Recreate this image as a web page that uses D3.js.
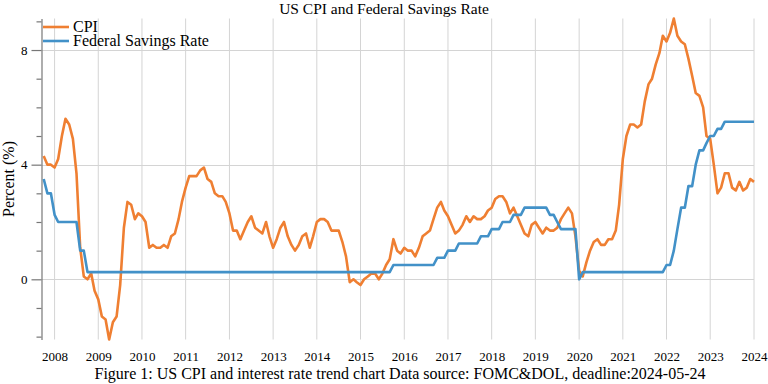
<!DOCTYPE html>
<html lang="en">
  <head>
    <meta charset="utf-8">
    <title>US CPI and Federal Savings Rate</title>
    <script src="https://d3js.org/d3.v7.min.js"></script>
    <style>
      body { margin: 0; background: #fff; }
      svg { font-family: "Liberation Serif", "DejaVu Serif", serif; }
    </style>
  </head>
  <body>
    <div id="chart"></div>
    <script>
      // monthly data, Jan 2008 .. Apr 2024
      var startMonth = "2008-01", endMonth = "2024-04";

      // CPI, year on year change (%)
      var cpi = [
        4.3, 4.0, 4.0, 3.9, 4.2, 5.0, 5.6, 5.4, 4.9, 3.7, 1.1, 0.1,
        0.0, 0.2, -0.4, -0.7, -1.3, -1.4, -2.1, -1.5, -1.3, -0.2, 1.8, 2.7,
        2.6, 2.1, 2.3, 2.2, 2.0, 1.1, 1.2, 1.1, 1.1, 1.2, 1.1, 1.5,
        1.6, 2.1, 2.7, 3.2, 3.6, 3.6, 3.6, 3.8, 3.9, 3.5, 3.4, 3.0,
        2.9, 2.9, 2.7, 2.3, 1.7, 1.7, 1.4, 1.7, 2.0, 2.2, 1.8, 1.7,
        1.6, 2.0, 1.5, 1.1, 1.4, 1.8, 2.0, 1.5, 1.2, 1.0, 1.2, 1.5,
        1.6, 1.1, 1.5, 2.0, 2.1, 2.1, 2.0, 1.7, 1.7, 1.7, 1.3, 0.8,
        -0.1, 0.0, -0.1, -0.2, 0.0, 0.1, 0.2, 0.2, 0.0, 0.2, 0.5, 0.7,
        1.4, 1.0, 0.9, 1.1, 1.0, 1.0, 0.8, 1.1, 1.5, 1.6, 1.7, 2.1,
        2.5, 2.7, 2.4, 2.2, 1.9, 1.6, 1.7, 1.9, 2.2, 2.0, 2.2, 2.1,
        2.1, 2.2, 2.4, 2.5, 2.8, 2.9, 2.9, 2.7, 2.3, 2.5, 2.2, 1.9,
        1.6, 1.5, 1.9, 2.0, 1.8, 1.6, 1.8, 1.7, 1.7, 1.8, 2.1, 2.3,
        2.5, 2.3, 1.5, 0.3, 0.1, 0.6, 1.0, 1.3, 1.4, 1.2, 1.2, 1.4,
        1.4, 1.7, 2.6, 4.2, 5.0, 5.4, 5.4, 5.3, 5.4, 6.2, 6.8, 7.0,
        7.5, 7.9, 8.5, 8.3, 8.6, 9.1, 8.5, 8.3, 8.2, 7.7, 7.1, 6.5,
        6.4, 6.0, 5.0, 4.9, 4.0, 3.0, 3.2, 3.7, 3.7, 3.2, 3.1, 3.4,
        3.1, 3.2, 3.5, 3.4
      ];

      // federal rate (%)
      var fedRate = [
        3.5, 3.0, 3.0, 2.25, 2.0, 2.0, 2.0, 2.0, 2.0, 2.0, 1.0, 1.0,
        0.25, 0.25, 0.25, 0.25, 0.25, 0.25, 0.25, 0.25, 0.25, 0.25, 0.25, 0.25,
        0.25, 0.25, 0.25, 0.25, 0.25, 0.25, 0.25, 0.25, 0.25, 0.25, 0.25, 0.25,
        0.25, 0.25, 0.25, 0.25, 0.25, 0.25, 0.25, 0.25, 0.25, 0.25, 0.25, 0.25,
        0.25, 0.25, 0.25, 0.25, 0.25, 0.25, 0.25, 0.25, 0.25, 0.25, 0.25, 0.25,
        0.25, 0.25, 0.25, 0.25, 0.25, 0.25, 0.25, 0.25, 0.25, 0.25, 0.25, 0.25,
        0.25, 0.25, 0.25, 0.25, 0.25, 0.25, 0.25, 0.25, 0.25, 0.25, 0.25, 0.25,
        0.25, 0.25, 0.25, 0.25, 0.25, 0.25, 0.25, 0.25, 0.25, 0.25, 0.25, 0.25,
        0.5, 0.5, 0.5, 0.5, 0.5, 0.5, 0.5, 0.5, 0.5, 0.5, 0.5, 0.5,
        0.75, 0.75, 0.75, 1.0, 1.0, 1.0, 1.25, 1.25, 1.25, 1.25, 1.25, 1.25,
        1.5, 1.5, 1.5, 1.75, 1.75, 1.75, 2.0, 2.0, 2.0, 2.25, 2.25, 2.25,
        2.5, 2.5, 2.5, 2.5, 2.5, 2.5, 2.5, 2.25, 2.25, 2.0, 1.75, 1.75,
        1.75, 1.75, 1.75, 0.0, 0.25, 0.25, 0.25, 0.25, 0.25, 0.25, 0.25, 0.25,
        0.25, 0.25, 0.25, 0.25, 0.25, 0.25, 0.25, 0.25, 0.25, 0.25, 0.25, 0.25,
        0.25, 0.25, 0.25, 0.5, 0.5, 1.0, 1.75, 2.5, 2.5, 3.25, 3.25, 4.0,
        4.5, 4.5, 4.75, 5.0, 5.0, 5.25, 5.25, 5.5, 5.5, 5.5, 5.5, 5.5,
        5.5, 5.5, 5.5, 5.5
      ];

      var yearLabels = ["2008", "2009", "2010", "2011", "2012", "2013", "2014", "2015", "2016",
                        "2017", "2018", "2019", "2020", "2021", "2022", "2023", "2024"];
      var yTicks = [-2, -1, 0, 1, 2, 3, 4, 5, 6, 7, 8, 9];
      var yLabelTicks = [0, 4, 8];

      var seriesNames = ["CPI", "Federal Savings Rate"];
      var colors = ["#ef7f32", "#4291c8"];

      var width = 768, height = 384;
      var parseMonth = d3.timeParse("%Y-%m");
      var months = d3.timeMonth.range(parseMonth(startMonth), d3.timeMonth.offset(parseMonth(endMonth), 1));

      var series = [cpi, fedRate].map(function(vals, i) {
        return { name: seriesNames[i], values: vals.map(function(v, j) { return { date: months[j], value: v }; }) };
      });

      var svg = d3.select("#chart").append("svg")
          .attr("width", width)
          .attr("height", height);

      var axisX = 41.5;
      var x = d3.scaleTime()
          .domain(d3.extent(months))
          .range([43.7, 754]);
      var y = d3.scaleLinear()
          .domain(d3.extent(cpi.concat(fedRate)))
          .range([339.5, 18.5]);

      // year gridlines sit on April of each year
      var yearTicks = yearLabels.map(function(yr) { return parseMonth(yr + "-04"); });

      // vertical gridlines
      svg.append("g").selectAll("line")
          .data(yearTicks)
          .enter().append("line")
          .attr("x1", function(d) { return x(d); })
          .attr("x2", function(d) { return x(d); })
          .attr("y1", 18.5)
          .attr("y2", 339.5)
          .attr("stroke", "#d4d4d4")
          .attr("stroke-width", 1);

      // horizontal gridlines
      svg.append("g").selectAll("line")
          .data(yLabelTicks)
          .enter().append("line")
          .attr("x1", axisX)
          .attr("x2", x.range()[1])
          .attr("y1", function(d) { return Math.round(y(d)) + 0.5; })
          .attr("y2", function(d) { return Math.round(y(d)) + 0.5; })
          .attr("stroke", "#d4d4d4")
          .attr("stroke-width", 1);

      // x labels, no axis line
      var xAxis = d3.axisBottom(x)
          .tickValues(yearTicks)
          .tickFormat(d3.timeFormat("%Y"))
          .tickSize(0)
          .tickPadding(0);
      var gx = svg.append("g")
          .attr("transform", "translate(0,352)")
          .call(xAxis);
      gx.select(".domain").remove();
      gx.selectAll("text")
          .attr("font-family", "Liberation Serif, serif")
          .attr("font-size", 13)
          .attr("fill", "#000");

      // y axis
      var yAxis = d3.axisLeft(y)
          .tickValues(yTicks)
          .tickSize(5)
          .tickSizeOuter(0)
          .tickPadding(4)
          .tickFormat(function(d) { return yLabelTicks.indexOf(d) >= 0 ? d : ""; });
      var gy = svg.append("g")
          .attr("transform", "translate(" + axisX + ",0)")
          .call(yAxis);
      gy.select(".domain").attr("stroke", "#777").attr("stroke-width", 1.2);
      gy.selectAll(".tick line").attr("stroke", "#777").attr("stroke-width", 1.2)
          .filter(function(d) { return yLabelTicks.indexOf(d) >= 0; })
          .attr("x2", -10);
      gy.selectAll(".tick text")
          .attr("x", -14)
          .attr("font-family", "Liberation Serif, serif")
          .attr("font-size", 13)
          .attr("fill", "#000");

      // lines
      var line = d3.line()
          .x(function(d) { return x(d.date); })
          .y(function(d) { return y(d.value); });

      svg.append("g").selectAll("path")
          .data(series)
          .enter().append("path")
          .attr("d", function(d) { return line(d.values); })
          .attr("fill", "none")
          .attr("stroke", function(d, i) { return colors[i]; })
          .attr("stroke-width", 2.6)
          .attr("stroke-linejoin", "round");

      // legend
      var legend = svg.append("g").selectAll("g")
          .data(seriesNames)
          .enter().append("g")
          .attr("transform", function(d, i) { return "translate(43," + (27 + i * 14) + ")"; });
      legend.append("line")
          .attr("x1", 0).attr("x2", 26)
          .attr("stroke", function(d, i) { return colors[i]; })
          .attr("stroke-width", 2.6);
      legend.append("text")
          .attr("x", 30)
          .attr("y", 5)
          .attr("font-size", 16)
          .text(function(d) { return d; });

      // title, axis label, caption
      svg.append("text")
          .attr("x", 384)
          .attr("y", 14)
          .attr("text-anchor", "middle")
          .attr("font-size", 15.5)
          .text("US CPI and Federal Savings Rate");

      svg.append("text")
          .attr("transform", "translate(14,179) rotate(-90)")
          .attr("text-anchor", "middle")
          .attr("font-size", 16)
          .text("Percent (%)");

      svg.append("text")
          .attr("x", 400)
          .attr("y", 379)
          .attr("text-anchor", "middle")
          .attr("font-size", 16)
          .text("Figure 1: US CPI and interest rate trend chart Data source: FOMC&DOL, deadline:2024-05-24");
    </script>
  </body>
</html>
